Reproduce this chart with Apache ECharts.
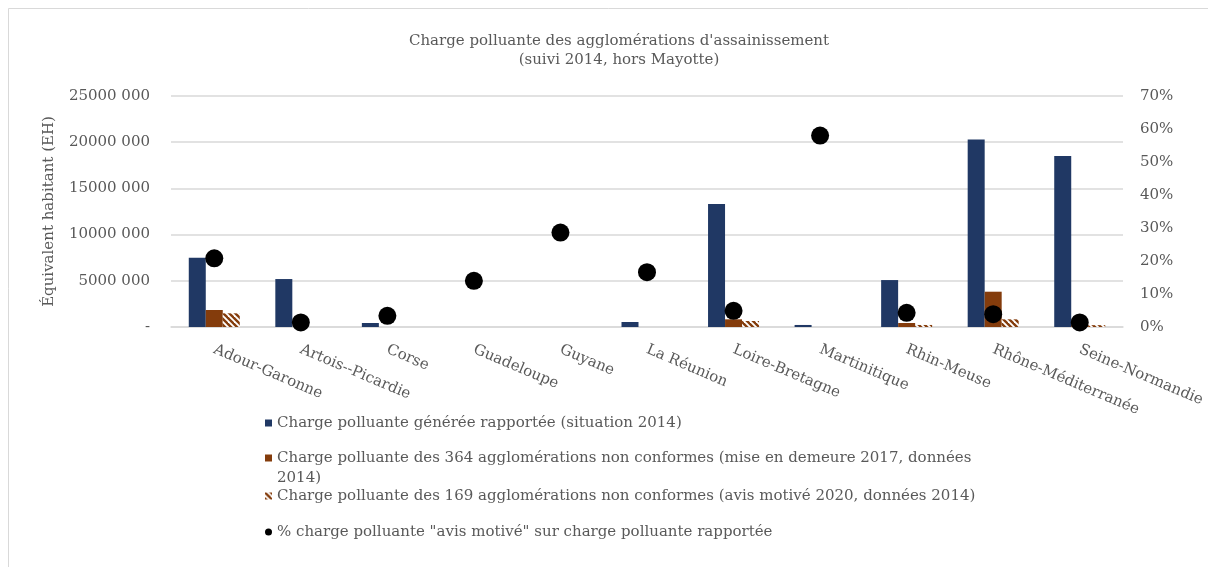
<!DOCTYPE html>
<html>
<head>
<meta charset="utf-8">
<script src="https://cdn.jsdelivr.net/npm/echarts@6/dist/echarts.min.js"></script>
<style>
  html, body { margin: 0; padding: 0; background: #fff; }
  #chart { width: 1208px; height: 567px; }
</style>
</head>
<body>
<div id="chart"></div>
<script>
// regions (as written on the chart)
const categories = ["Adour-Garonne", "Artois--Picardie", "Corse", "Guadeloupe", "Guyane", "La Réunion",
  "Loire-Bretagne", "Martinitique", "Rhin-Meuse", "Rhône-Méditerranée", "Seine-Normandie"];

// EH values
const chargeRapportee = [7500000, 5190000, 430000, 0, 0, 540000, 13300000, 220000, 5080000, 20300000, 18500000];
const chargeMiseEnDemeure = [1840000, 0, 0, 0, 0, 0, 830000, 0, 430000, 3820000, 250000];
const chargeAvisMotive = [1480000, 0, 0, 0, 0, 0, 650000, 0, 220000, 830000, 200000];
// share "avis motivé" / rapportée
const partAvisMotive = [0.208, 0.014, 0.034, 0.14, 0.286, 0.166, 0.049, 0.58, 0.043, 0.039, 0.014];

const leftTickLabels = ["-", "5000 000", "10000 000", "15000 000", "20000 000", "25000 000"];
const rightTickLabels = ["0%", "10%", "20%", "30%", "40%", "50%", "60%", "70%"];

const names = [
  "Charge polluante générée rapportée (situation 2014)",
  "Charge polluante des 364 agglomérations non conformes (mise en demeure 2017, données 2014)",
  "Charge polluante des 169 agglomérations non conformes (avis motivé 2020, données 2014)",
  '% charge polluante "avis motivé" sur charge polluante rapportée'
];

const FONT = "DejaVu Serif";
const GREY = "#595959";

// hatch pattern for the "avis motivé" bars
function hatch() {
  const c = document.createElement("canvas");
  c.width = 6; c.height = 6;
  const ctx = c.getContext("2d");
  ctx.fillStyle = "#fff";
  ctx.fillRect(0, 0, 6, 6);
  ctx.strokeStyle = "#843C0C";
  ctx.lineWidth = 2.4;
  for (let k = -6; k <= 6; k += 6) {
    ctx.beginPath();
    ctx.moveTo(k - 1, -1);
    ctx.lineTo(k + 7, 7);
    ctx.stroke();
  }
  return c;
}

const legendBase = {
  orient: "vertical",
  left: 265,
  padding: 0,
  itemWidth: 7,
  itemHeight: 7,
  icon: "rect",
  selectedMode: false,
  textStyle: { fontFamily: FONT, fontSize: 15, color: GREY, lineHeight: 20 }
};

const chart = echarts.init(document.getElementById("chart"));
chart.setOption({
  backgroundColor: "#fff",
  animation: false,
  title: {
    text: "Charge polluante des agglomérations d'assainissement\n(suivi 2014, hors Mayotte)",
    left: 614,
    top: 27,
    textAlign: "center",
    textStyle: { fontFamily: FONT, fontSize: 15, fontWeight: "normal", color: GREY, lineHeight: 19 }
  },
  graphic: [{
    type: "rect",
    shape: { x: 8.5, y: 8.5, width: 1400, height: 800 },
    style: { fill: "none", stroke: "#d9d9d9", lineWidth: 1 },
    silent: true
  }],
  grid: { left: 171, right: 85, top: 96, bottom: 240 },
  legend: [
    Object.assign({}, legendBase, { top: 413, data: [names[0]] }),
    Object.assign({}, legendBase, {
      top: 428, data: [names[1]],
      // blank first line keeps the icon level with the first text line
      formatter: n => "\n" + n.replace(" 2014)", "\n2014)")
    }),
    Object.assign({}, legendBase, { top: 486, data: [names[2]] }),
    Object.assign({}, legendBase, { top: 522, data: [{ name: names[3], icon: "circle" }] })
  ],
  xAxis: {
    type: "category",
    data: categories,
    axisLine: { lineStyle: { color: "#d9d9d9", width: 1.5 } },
    axisTick: { show: false },
    axisLabel: {
      interval: 0,
      rotate: -23,
      margin: 22,
      fontFamily: FONT,
      fontSize: 15,
      color: GREY
    }
  },
  yAxis: [
    {
      type: "value",
      min: 0,
      max: 25000000,
      interval: 5000000,
      name: "Équivalent habitant (EH)",
      nameLocation: "middle",
      nameGap: 114,
      nameTextStyle: { fontFamily: FONT, fontSize: 15, color: GREY },
      axisLine: { show: false },
      axisTick: { show: false },
      splitLine: { lineStyle: { color: "#d9d9d9", width: 1.5 } },
      axisLabel: {
        margin: 21,
        fontFamily: FONT,
        fontSize: 15,
        color: GREY,
        formatter: v => leftTickLabels[Math.round(v / 5000000)]
      }
    },
    {
      type: "value",
      min: 0,
      max: 0.7,
      interval: 0.1,
      position: "right",
      axisLine: { show: false },
      axisTick: { show: false },
      splitLine: { show: false },
      axisLabel: {
        margin: 17,
        fontFamily: FONT,
        fontSize: 15,
        color: GREY,
        formatter: v => rightTickLabels[Math.round(v * 10)]
      }
    }
  ],
  series: [
    {
      name: names[0],
      type: "bar",
      data: chargeRapportee,
      barWidth: 17,
      barGap: "0%",
      itemStyle: { color: "#203864" }
    },
    {
      name: names[1],
      type: "bar",
      data: chargeMiseEnDemeure,
      barWidth: 17,
      barGap: "0%",
      itemStyle: { color: "#843C0C" }
    },
    {
      name: names[2],
      type: "bar",
      data: chargeAvisMotive,
      barWidth: 17,
      barGap: "0%",
      itemStyle: { color: { image: hatch(), repeat: "repeat" } }
    },
    {
      name: names[3],
      type: "scatter",
      yAxisIndex: 1,
      data: partAvisMotive,
      symbolSize: 18,
      itemStyle: { color: "#000", opacity: 1 }
    }
  ]
});
</script>
</body>
</html>
